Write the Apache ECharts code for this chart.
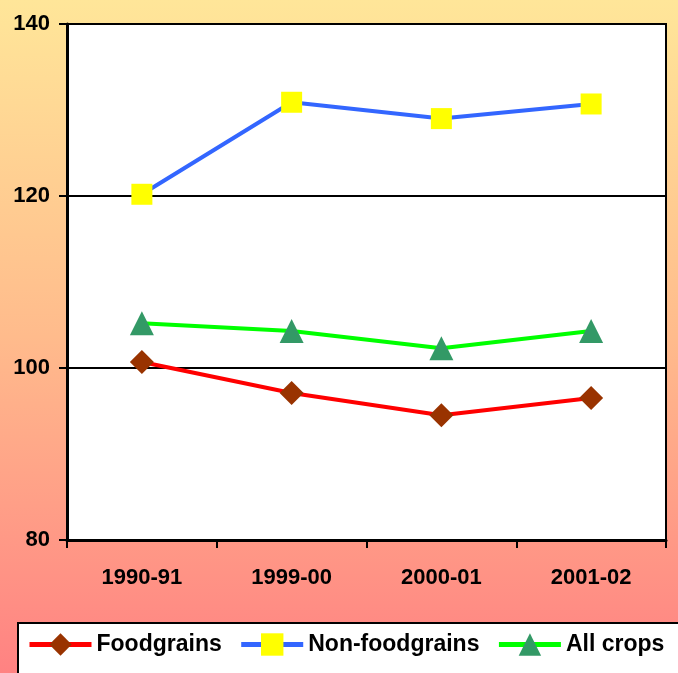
<!DOCTYPE html>
<html>
<head>
<meta charset="utf-8">
<script src="https://cdn.jsdelivr.net/npm/echarts@6/dist/echarts.min.js"></script>
<style>
  html, body { margin: 0; padding: 0; }
  #chart { width: 678px; height: 673px; }
</style>
</head>
<body>
<div id="chart"></div>
<script>
const years = ["1990-91", "1999-00", "2000-01", "2001-02"];
const foodgrains = [100.7, 97.1, 94.5, 96.5];
const nonFoodgrains = [120.2, 130.9, 129.0, 130.7];
const allCrops = [105.2, 104.3, 102.3, 104.3];
const yTicks = [80, 100, 120, 140];

const font = "'Liberation Sans', Arial, sans-serif";

const chart = echarts.init(document.getElementById("chart"));
const option = {
  backgroundColor: new echarts.graphic.LinearGradient(0, 0, 0, 1, [
    { offset: 0, color: "#FFE699" },
    { offset: 0.5, color: "#FFBB8C" },
    { offset: 1, color: "#FF8282" },
  ]),
  textStyle: { fontFamily: font },
  // white legend box, runs off the right and bottom edges like the original
  graphic: [
    {
      type: "rect",
      left: 17,
      top: 622,
      z: 0,
      shape: { width: 700, height: 80 },
      style: { fill: "#fff", stroke: "#000", lineWidth: 2 },
    },
  ],
  grid: {
    left: 67,
    right: 12,
    top: 24,
    bottom: 133,
    show: true,
    backgroundColor: "#fff",
    borderColor: "#000",
    borderWidth: 2,
  },
  legend: {
    left: 17,
    top: 622,
    padding: [11, 0, 0, 10],
    itemWidth: 62,
    itemHeight: 28,
    itemGap: 17,
    z: 5,
    lineStyle: { width: 5 },
    textStyle: {
      fontFamily: font,
      fontSize: 23,
      fontWeight: "bold",
      color: "#000",
    },
    data: ["Foodgrains", "Non-foodgrains", "All crops"],
  },
  xAxis: {
    type: "category",
    data: years,
    boundaryGap: true,
    axisLine: { lineStyle: { color: "#000", width: 3 } },
    axisTick: { show: true, length: 8, lineStyle: { color: "#000", width: 2 } },
    axisLabel: {
      margin: 27,
      fontFamily: font,
      fontSize: 22,
      fontWeight: "bold",
      color: "#000",
    },
  },
  yAxis: {
    type: "value",
    min: yTicks[0],
    max: yTicks[yTicks.length - 1],
    interval: 20,
    axisLine: { show: true, lineStyle: { color: "#000", width: 3 } },
    axisTick: { show: true, length: 8, lineStyle: { color: "#000", width: 2 } },
    splitLine: { show: true, lineStyle: { color: "#000", width: 2 } },
    axisLabel: {
      margin: 17,
      fontFamily: font,
      fontSize: 22,
      fontWeight: "bold",
      color: "#000",
    },
  },
  series: [
    {
      name: "Foodgrains",
      type: "line",
      data: foodgrains,
      symbol: "diamond",
      symbolSize: 24,
      lineStyle: { color: "#FF0000", width: 4 },
      itemStyle: { color: "#993300" },
      z: 3,
    },
    {
      name: "Non-foodgrains",
      type: "line",
      data: nonFoodgrains,
      symbol: "rect",
      symbolSize: 21,
      lineStyle: { color: "#3366FF", width: 4 },
      itemStyle: { color: "#FFFF00" },
      z: 3,
    },
    {
      name: "All crops",
      type: "line",
      data: allCrops,
      symbol: "triangle",
      symbolSize: 24,
      lineStyle: { color: "#00FF00", width: 4 },
      itemStyle: { color: "#339966" },
      z: 3,
    },
  ],
};
chart.setOption(option);
</script>
</body>
</html>
